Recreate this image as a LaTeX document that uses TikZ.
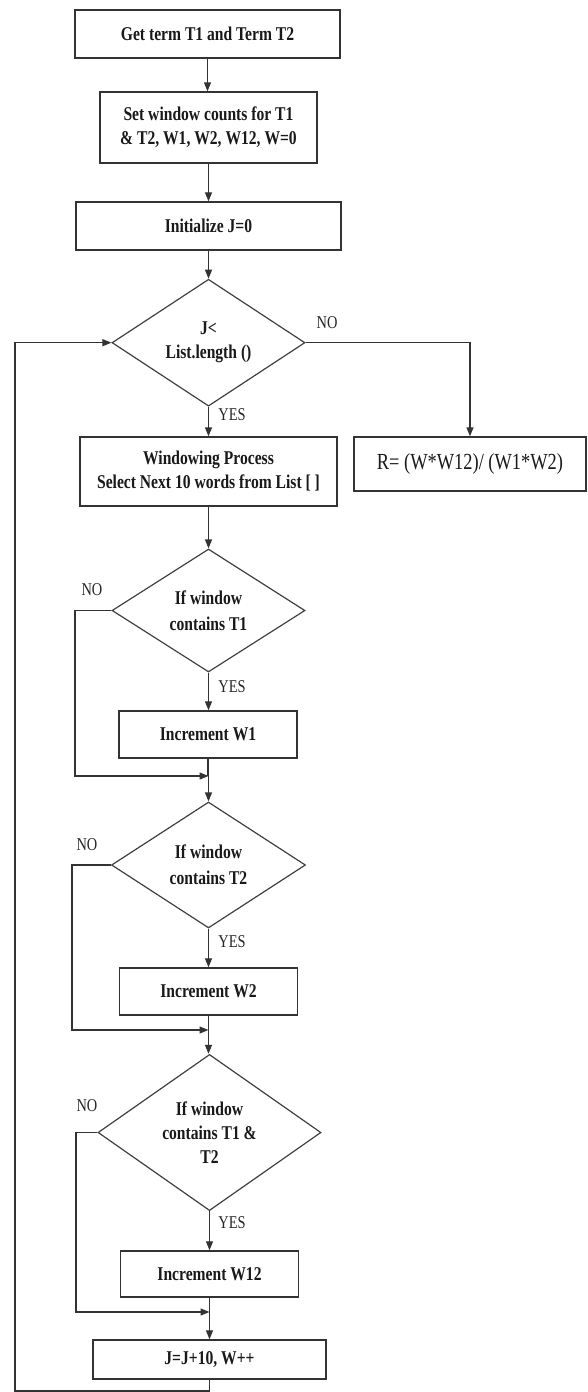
\documentclass[tikz,border=0pt]{standalone}
\usepackage{fontspec}
\setmainfont{Liberation Serif}[FakeStretch=0.8]
\usetikzlibrary{shapes.geometric,arrows.meta}
\tikzset{
  box/.style={draw=black!80, line width=1.4pt, fill=white, rectangle, inner sep=0pt,
    align=center, font=\fontsize{19.5}{24}\selectfont\bfseries, text=black!90},
  dec/.style={draw=black!75, line width=1.2pt, fill=white, diamond, inner sep=0pt,
    align=center, font=\fontsize{19.5}{24}\selectfont\bfseries, text=black!90},
  lbl/.style={font=\fontsize{18}{20}\selectfont, text=black!85, inner sep=0pt},
  con/.style={draw=black!80, line width=1.3pt},
  arr/.style={con, -{Triangle[length=9pt,width=7pt]}},
}
\begin{document}
\begin{tikzpicture}[x=1pt,y=-1pt]
\useasboundingbox (0,0) rectangle (587,1392);
% nodes
\node[box, minimum width=265pt, minimum height=48pt] (b1) at (207.5,34) {Get term T1 and Term T2};
\node[box, minimum width=217pt, minimum height=71pt] (b2) at (208.5,127.5) {Set window counts for T1\\\& T2, W1, W2, W12, W=0};
\node[box, minimum width=265pt, minimum height=48pt] (b3) at (208.5,226) {Initialize J=0};
\node[dec, minimum width=193pt, minimum height=110pt] (d1) at (208.5,342.7) {J<\\List.length ()};
\node[box, minimum width=257pt, minimum height=69pt] (bw) at (208.5,471.5) {Windowing Process\\Select Next 10 words from List [ ]};
\node[box, minimum width=232pt, minimum height=54pt, font=\fontsize{23}{26}\selectfont] (br) at (470,464) {R= (W*W12)/ (W1*W2)};
\node[dec, minimum width=193pt, minimum height=123pt, font=\fontsize{19.5}{26}\selectfont\bfseries] (d2) at (208.5,610.5) {If window\\contains T1};
\node[box, minimum width=178pt, minimum height=47pt] (bi1) at (208,734.5) {Increment W1};
\node[dec, minimum width=194pt, minimum height=126pt, font=\fontsize{19.5}{26}\selectfont\bfseries] (d3) at (208.5,865) {If window\\contains T2};
\node[box, minimum width=178pt, minimum height=47pt] (bi2) at (208.5,991.5) {Increment W2};
\node[dec, minimum width=223pt, minimum height=151pt] (d4) at (209.5,1132.5) {If window\\contains T1 \&\\T2};
\node[box, minimum width=178pt, minimum height=46pt] (bi3) at (209.5,1274) {Increment W12};
\node[box, minimum width=233pt, minimum height=39pt] (bj) at (209.5,1359.5) {J=J+10, W++};
% labels
\node[lbl] (no1) at (327,323) {NO};
\node[lbl] (yes1) at (232,415) {YES};
\node[lbl] (no2) at (92,590) {NO};
\node[lbl] (yes2) at (232,687) {YES};
\node[lbl] (no3) at (87,845) {NO};
\node[lbl] (yes3) at (232,942) {YES};
\node[lbl] (no4) at (87,1106) {NO};
\node[lbl] (yes4) at (232,1223) {YES};
% junctions
\coordinate (j1) at (208.5,776);
\coordinate (j2) at (208.5,1030);
\coordinate (j3) at (209.5,1312);
\coordinate (n1) at (75,0);
\coordinate (n2) at (72,0);
\coordinate (n3) at (76,0);
\coordinate (lb) at (15,1391);
% connectors
\draw[arr] (b1.south) -- (b1.south |- b2.north);
\draw[arr] (b2.south) -- (b2.south |- b3.north);
\draw[arr] (b3.south) -- (b3.south |- d1.north);
\draw[arr] (d1.south) -- (d1.south |- bw.north);
\draw[arr] (d1.east) -| (br.north);
\draw[arr] (bw.south) -- (bw.south |- d2.north);
\draw[arr] (d2.south) -- (d2.south |- bi1.north);
\draw[arr] (d2.west) -- (d2.west -| n1) -- (n1 |- j1) -- (j1);
\draw[con] (bi1.south) -- (bi1.south |- j1);
\draw[arr] (j1) -- (j1 |- d3.north);
\draw[arr] (d3.south) -- (d3.south |- bi2.north);
\draw[arr] (d3.west) -- (d3.west -| n2) -- (n2 |- j2) -- (j2);
\draw[con] (bi2.south) -- (bi2.south |- j2);
\draw[arr] (j2) -- (j2 |- d4.north);
\draw[arr] (d4.south) -- (d4.south |- bi3.north);
\draw[arr] (d4.west) -- (d4.west -| n3) -- (n3 |- j3) -- (j3);
\draw[con] (bi3.south) -- (bi3.south |- j3);
\draw[arr] (j3) -- (j3 |- bj.north);
\draw[arr] (bj.south) -- (bj.south |- lb) -- (lb) -- (lb |- d1.west) -- (d1.west);
\end{tikzpicture}
\end{document}
